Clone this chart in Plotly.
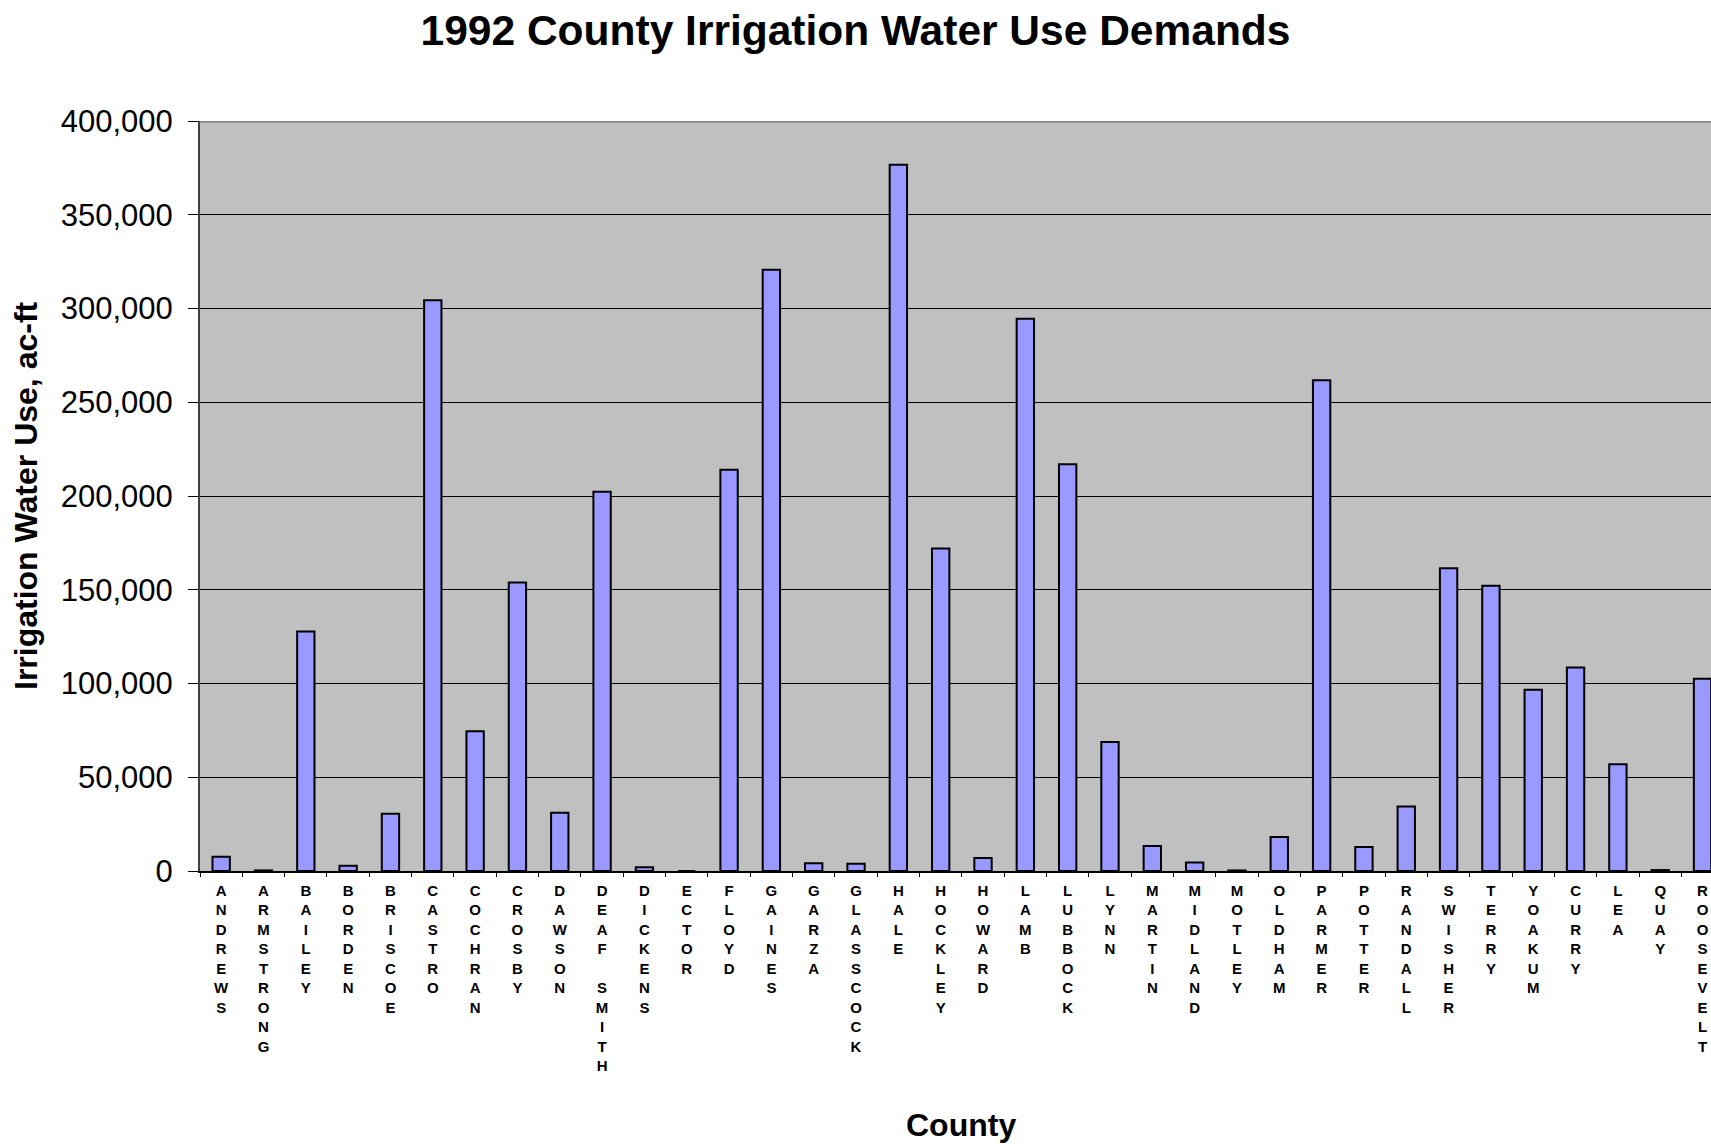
import plotly.graph_objects as go

counties = ["ANDREWS", "ARMSTRONG", "BAILEY", "BORDEN", "BRISCOE", "CASTRO", "COCHRAN",
            "CROSBY", "DAWSON", "DEAF SMITH", "DICKENS", "ECTOR", "FLOYD", "GAINES",
            "GARZA", "GLASSCOCK", "HALE", "HOCKLEY", "HOWARD", "LAMB", "LUBBOCK", "LYNN",
            "MARTIN", "MIDLAND", "MOTLEY", "OLDHAM", "PARMER", "POTTER", "RANDALL",
            "SWISHER", "TERRY", "YOAKUM", "CURRY", "LEA", "QUAY", "ROOSEVELT"]

# irrigation water use, ac-ft
water_use = [7600, 300, 127700, 2800, 30600, 304400, 74600,
             153900, 31100, 202300, 2000, 0, 214000, 320700,
             4100, 3900, 376700, 172000, 7000, 294500, 216900, 68800,
             13400, 4600, 300, 18100, 261800, 12800, 34400,
             161500, 152200, 96700, 108500, 56900, 500, 102600]

y_ticks = [0, 50000, 100000, 150000, 200000, 250000, 300000, 350000, 400000]


def stacked(name):
    # one letter per line, like the original axis labels
    return "<br>".join(ch if ch != " " else "&nbsp;" for ch in name)


font = "Liberation Sans, Arial, sans-serif"

W, H = 1711, 1144

fig = go.Figure()
fig.add_trace(go.Bar(
    x=counties, y=water_use, width=0.41,
    marker=dict(color="#9999FF", line=dict(color="black", width=2)),
))

fig.update_layout(
    width=W, height=H,
    margin=dict(l=200, r=0, t=121, b=273),
    paper_bgcolor="white", plot_bgcolor="#C0C0C0",
    showlegend=False,
    title=dict(text="1992 County Irrigation Water Use Demands", x=0.5, xref="container",
               y=1 - 30 / H, yref="container", xanchor="center", yanchor="middle",
               font=dict(family=font, size=42.5, color="black", weight="bold")),
)

fig.update_xaxes(
    range=[-0.5, 35.2], type="category",
    tickvals=counties, ticktext=[stacked(c) for c in counties],
    tickson="boundaries", ticks="outside", ticklen=4, tickcolor="black",
    ticklabelstandoff=5, ticklabeloverflow="allow",
    tickfont=dict(family=font, size=15, color="black", weight="bold"),
    tickangle=0, showgrid=False,
    showline=True, linecolor="black", linewidth=1.5,
)

fig.update_yaxes(
    range=[0, 400000], tickvals=y_ticks,
    ticktext=[f"{v:,}" for v in y_ticks],
    ticks="outside", ticklen=10, tickcolor="black", ticklabelstandoff=9,
    tickfont=dict(family=font, size=31, color="black"),
    showgrid=True, gridcolor="black", gridwidth=1, zeroline=False,
    showline=True, linecolor="#404040", linewidth=2,
)

# grey top border of the plot area
fig.add_shape(type="line", xref="paper", x0=0, x1=1, yref="y", y0=400000, y1=400000,
              line=dict(color="#808080", width=3), layer="above")

fig.add_annotation(text="Irrigation Water Use, ac-ft", textangle=-90,
                   xref="paper", yref="paper", x=(26 - 200) / 1511, y=0.5,
                   xanchor="center", yanchor="middle", showarrow=False,
                   font=dict(family=font, size=32, color="black", weight="bold"))
fig.add_annotation(text="County", xref="paper", yref="paper",
                   x=(961 - 200) / 1511, y=(871 - 1125) / 750,
                   xanchor="center", yanchor="middle", showarrow=False,
                   font=dict(family=font, size=32, color="black", weight="bold"))

# drop the default page margin so the figure fills the window exactly
fig.write_html("out.html", config={"displayModeBar": False},
               post_script="document.body.style.margin='0';document.body.style.overflow='hidden';")
